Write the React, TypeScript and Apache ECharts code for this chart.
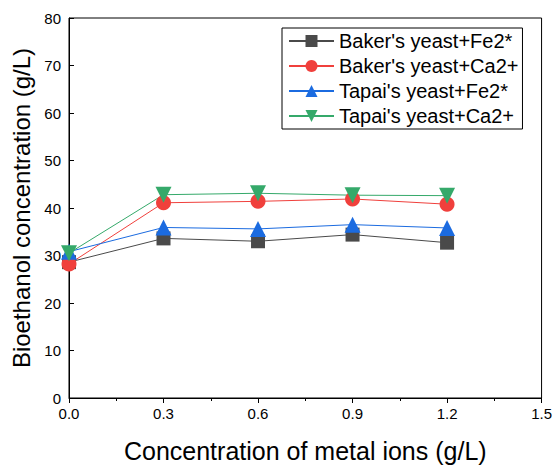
import React, { useEffect, useRef } from "react";
import * as echarts from "echarts";

const xValues = [0, 0.3, 0.6, 0.9, 1.2];
const bakerFe = [28.6, 33.6, 33.0, 34.4, 32.7];
const bakerCa = [28.2, 41.1, 41.4, 41.9, 40.8];
const tapaiFe = [30.8, 35.9, 35.6, 36.5, 35.8];
const tapaiCa = [30.5, 42.8, 43.1, 42.7, 42.6];
const seriesNames = [
  "Baker's yeast+Fe2*",
  "Baker's yeast+Ca2+",
  "Tapai's yeast+Fe2*",
  "Tapai's yeast+Ca2+",
];

const FONT = "'Liberation Sans', Arial, Helvetica, sans-serif";

export default function App() {
  const ref = useRef<HTMLDivElement>(null);
  useEffect(() => {
    if (!ref.current) return;
    const chart = echarts.init(ref.current, null, { renderer: "svg" });
    const pairs = (ys: number[]) => xValues.map((x, i) => [x, ys[i]]);
    const mk = (
      name: string,
      ys: number[],
      color: string,
      symbol: string,
      size: number,
      rotate = 0
    ) => ({
      name,
      type: "line",
      data: pairs(ys),
      symbol,
      symbolSize: size,
      symbolRotate: rotate,
      showAllSymbol: true,
      clip: false,
      lineStyle: { color, width: 1 },
      itemStyle: { color, borderWidth: 0 },
      emphasis: { disabled: true },
    });
    chart.setOption({
      animation: false,
      backgroundColor: "#fff",
      textStyle: { fontFamily: FONT },
      grid: {
        left: 69,
        right: 10,
        top: 18,
        bottom: 67,
        show: true,
        borderColor: "#000",
        borderWidth: 1,
        backgroundColor: "transparent",
      },
      legend: {
        orient: "vertical",
        left: 282,
        top: 28,
        data: seriesNames,
        borderColor: "#000",
        borderWidth: 1,
        padding: [3, 4, 3, 6],
        itemGap: 5,
        itemWidth: 45,
        itemHeight: 15,
        textStyle: { fontSize: 20, color: "#000", fontFamily: FONT },
      },
      xAxis: {
        type: "value",
        min: 0,
        max: 1.5,
        interval: 0.3,
        name: "Concentration of metal ions (g/L)",
        nameLocation: "middle",
        nameGap: 40,
        nameTextStyle: { fontSize: 25, color: "#000", fontFamily: FONT },
        axisLine: { show: true, onZero: false, lineStyle: { color: "#000", width: 1 } },
        axisTick: { show: true, inside: false, length: 5, lineStyle: { color: "#000" } },
        minorTick: { show: true, splitNumber: 2, length: 3, lineStyle: { color: "#000" } },
        splitLine: { show: false },
        axisLabel: {
          fontSize: 15,
          color: "#000",
          margin: 8,
          fontFamily: FONT,
          formatter: (v: number) => v.toFixed(1),
        },
      },
      yAxis: {
        type: "value",
        min: 0,
        max: 80,
        interval: 10,
        name: "Bioethanol concentration (g/L)",
        nameLocation: "middle",
        nameGap: 32,
        nameTextStyle: { fontSize: 24, color: "#000", fontFamily: FONT },
        axisLine: { show: true, lineStyle: { color: "#000", width: 1 } },
        axisTick: { show: true, inside: true, length: 5, lineStyle: { color: "#000" } },
        splitLine: { show: false },
        axisLabel: { fontSize: 15, color: "#000", margin: 8, fontFamily: FONT },
      },
      series: [
        mk(seriesNames[0], bakerFe, "#4a4a4a", "rect", 14),
        mk(seriesNames[1], bakerCa, "#f0403c", "circle", 15),
        mk(seriesNames[2], tapaiFe, "#1b6be0", "triangle", 16),
        mk(seriesNames[3], tapaiCa, "#35a96a", "triangle", 16, 180),
      ],
    });
    return () => chart.dispose();
  }, []);
  return <div ref={ref} style={{ width: 555, height: 468, position: "absolute", left: 0, top: 0 }} />;
}
